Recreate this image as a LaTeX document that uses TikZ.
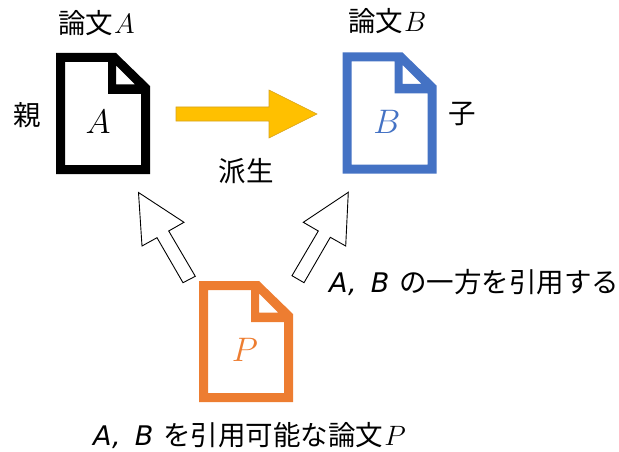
\RequirePackage{fix-cm}
\documentclass[tikz,border=0pt]{standalone}
\usepackage{fontspec}
\newfontfamily\jp{Noto Sans CJK JP}[Scale=1]
\newfontfamily\lat{DejaVu Sans}
\definecolor{docblue}{HTML}{4472C4}
\definecolor{docorange}{HTML}{ED7D31}
\definecolor{arrowgold}{HTML}{FFC000}
\definecolor{arrowedge}{HTML}{D6A21E}
\newcommand{\latab}{{\lat\itshape\fontsize{27}{30}\selectfont A,\hspace{14pt}B\hspace{10pt}}}
\newcommand{\mathsz}{\hspace{1pt}\fontsize{28}{32}\selectfont}
\tikzset{
  txt/.style={inner sep=0pt,font=\jp\fontsize{27.5}{32}\selectfont,text=black},
  mathtxt/.style={inner sep=0pt,font=\fontsize{34}{40}\selectfont},
  hollow/.style={draw=black,fill=white,line width=0.9pt,line join=miter},
  doc/.pic={
    \fill[pic actions,even odd rule]
      (0,0) -- (60,0) -- (94,33) -- (94,121) -- (0,121) -- cycle
      (9,9) -- (52,9) -- (52,41) -- (85,41) -- (85,112) -- (9,112) -- cycle
      (60,12.5) -- (79,31.5) -- (60,31.5) -- cycle;
  }
}
\begin{document}
\begin{tikzpicture}[x=1pt,y=-1pt]
\useasboundingbox (0,0) rectangle (619,452);
\pic[fill=black] at (56,53) {doc};
\pic[fill=docblue] at (342.5,52.5) {doc};
\pic[fill=docorange] at (199,281) {doc};
\node[mathtxt] (la) at (98,122) {$A$};
\node[mathtxt,text=docblue] (lb) at (387,122) {$B$};
\node[mathtxt,text=docorange] (lp) at (245,350) {$P$};
\node[txt,anchor=west] (ta) at (58,23) {論文\mathsz$A$};
\node[txt,anchor=west] (tb) at (348,21) {論文\mathsz$B$};
\node[txt] (oya) at (27,115) {親};
\node[txt] (ko) at (462,114) {子};
\node[txt] (ha) at (246,171) {派生};
\fill[arrowgold,draw=arrowedge,line width=0.6pt] (176,107) -- (269,107) -- (269,90) -- (317,114) -- (269,138) -- (269,121) -- (176,121) -- cycle;
\draw[hollow] (138.5,192.5) -- (184,222.3) -- (168.7,231) -- (195.3,276.3) -- (183,282.7) -- (157,237.7) -- (142,246) -- cycle;
\draw[hollow] (348.3,192.3) -- (303.3,222.3) -- (318.3,231) -- (292,275.7) -- (304,282.7) -- (330.3,237.3) -- (345.7,246) -- cycle;
\node[txt,anchor=west] (c1) at (329,282) {\latab の一方を引用する};
\node[txt,anchor=west] (c2) at (93,436) {\latab を引用可能な論文\mathsz$P$};
\end{tikzpicture}
\end{document}
